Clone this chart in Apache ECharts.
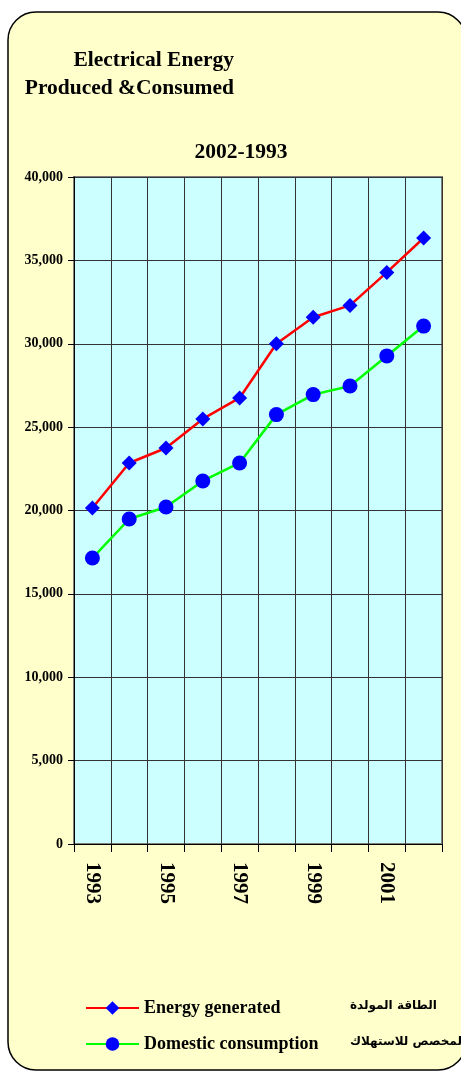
<!DOCTYPE html>
<html>
<head>
<meta charset="utf-8">
<script src="https://cdn.jsdelivr.net/npm/echarts@6/dist/echarts.min.js"></script>
<style>
  html, body { margin: 0; padding: 0; background: #fff; }
  #chart { width: 461px; height: 1073px; }
</style>
</head>
<body>
<div id="chart"></div>
<script>
// years on the x axis
var years = ["1993", "1994", "1995", "1996", "1997", "1998", "1999", "2000", "2001", "2002"];
// energy generated (GWh)
var generated = [20150, 22850, 23750, 25490, 26750, 30000, 31590, 32300, 34280, 36340];
// domestic consumption (GWh)
var consumption = [17150, 19490, 20210, 21770, 22850, 25750, 26950, 27470, 29270, 31060];

var serif = "'Liberation Serif', 'Times New Roman', serif";
var chart = echarts.init(document.getElementById("chart"));

var option = {
  backgroundColor: "#fff",
  animation: false,
  graphic: [
    {
      type: "rect",
      z: -10,
      silent: true,
      shape: { x: 8, y: 12, width: 458, height: 1058, r: 28 },
      style: { fill: "#FFFFCC", stroke: "#000", lineWidth: 1.5 },
    },
    {
      type: "text",
      x: 234,
      y: 60,
      style: { text: "Electrical Energy", font: "bold 21.5px " + serif, fill: "#000", align: "right", verticalAlign: "middle" },
    },
    {
      type: "text",
      x: 234,
      y: 88,
      style: { text: "Produced &Consumed", font: "bold 21.5px " + serif, fill: "#000", align: "right", verticalAlign: "middle" },
    },
    {
      type: "text",
      x: 241,
      y: 152,
      style: { text: "2002-1993", font: "bold 21.5px " + serif, fill: "#000", align: "center", verticalAlign: "middle" },
    },
    {
      type: "text",
      x: 350,
      y: 1006,
      style: { text: "الطاقة المولدة", font: "bold 12px 'DejaVu Sans'", fill: "#000", align: "left", verticalAlign: "middle" },
    },
    {
      type: "text",
      x: 350,
      y: 1042,
      style: { text: "المخصص للاستهلاك", font: "bold 12px 'DejaVu Sans'", fill: "#000", align: "left", verticalAlign: "middle" },
    },
  ],
  legend: {
    orient: "vertical",
    left: 80,
    top: 994,
    itemWidth: 53,
    itemHeight: 17,
    itemGap: 18,
    textStyle: { fontFamily: serif, fontWeight: "bold", fontSize: 18, color: "#000" },
    data: ["Energy generated", "Domestic consumption"],
  },
  grid: {
    left: 74,
    right: 19,
    top: 177,
    bottom: 229,
    show: true,
    backgroundColor: "#CCFFFF",
    borderColor: "#808080",
    borderWidth: 2,
  },
  xAxis: {
    type: "category",
    data: years,
    boundaryGap: true,
    axisLine: { lineStyle: { color: "#000", width: 1 } },
    axisTick: { show: true, interval: 0, length: 8, lineStyle: { color: "#000" } },
    axisLabel: {
      interval: 1,
      rotate: -90,
      margin: 18,
      fontFamily: serif,
      fontWeight: "bold",
      fontSize: 21,
      color: "#000",
    },
    splitLine: { show: true, interval: 0, lineStyle: { color: "#333", width: 1 } },
  },
  yAxis: {
    type: "value",
    min: 0,
    max: 40000,
    interval: 5000,
    axisLine: { show: true, lineStyle: { color: "#000", width: 1 } },
    axisTick: { show: true, length: 6, lineStyle: { color: "#000" } },
    axisLabel: {
      margin: 11,
      fontFamily: serif,
      fontWeight: "bold",
      fontSize: 14,
      color: "#000",
      formatter: function (v) {
        return v.toLocaleString("en-US");
      },
    },
    splitLine: { show: true, lineStyle: { color: "#333", width: 1 } },
  },
  series: [
    {
      name: "Energy generated",
      type: "line",
      data: generated,
      symbol: "diamond",
      symbolSize: 15,
      lineStyle: { color: "#FF0000", width: 2.5 },
      itemStyle: { color: "#0000FF" },
    },
    {
      name: "Domestic consumption",
      type: "line",
      data: consumption,
      symbol: "circle",
      symbolSize: 15,
      lineStyle: { color: "#00FF00", width: 2.5 },
      itemStyle: { color: "#0000FF" },
    },
  ],
};

chart.setOption(option);
</script>
</body>
</html>
